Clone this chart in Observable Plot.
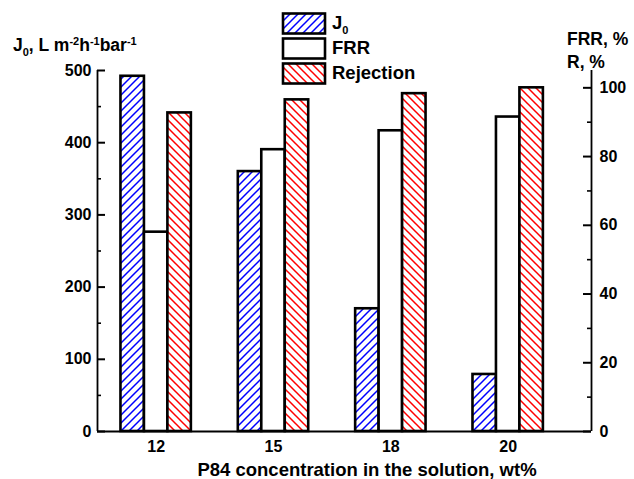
<!DOCTYPE html>
<html><head><meta charset="utf-8">
<script src="https://cdn.jsdelivr.net/npm/d3@7"></script>
<script src="https://cdn.jsdelivr.net/npm/@observablehq/plot@0.6"></script>
<style>body{margin:0;background:#fff} svg{display:block}</style>
</head><body><div id="chart"></div>
<script>
const concentrations = ["12", "15", "18", "20"];
const fluxJ0 = [492, 360, 170, 79];
const frrPct = [58, 82, 87.5, 91.5];
const rejectionPct = [92.7, 96.5, 98.3, 100];
const leftTicks = [0, 100, 200, 300, 400, 500];
const leftMinor = [50, 150, 250, 350, 450];
const rightTicks = [0, 20, 40, 60, 80, 100];
const rightMinor = [10, 30, 50, 70, 90];
const legendLabels = ["J", "FRR", "Rejection"];
const K = 4.76; // one right-axis unit (%) expressed in left-axis units

const rows = concentrations.map((c, i) => ({i, c, j0: fluxJ0[i], frr: frrPct[i] * K, rej: rejectionPct[i] * K}));
const font = "'Liberation Sans', Arial, sans-serif";

const xDomain = [-0.5, 3.71];
const plotW = 634 - 97 - 43;
const u = (xDomain[1] - xDomain[0]) / plotW; // x units per pixel
const majorLen = 8 * u, minorLen = 4 * u;

const svg = Plot.plot({
  width: 634, height: 479,
  marginLeft: 97, marginRight: 43, marginTop: 70, marginBottom: 48,
  style: {fontFamily: font, fontSize: "16px", fontWeight: "bold", color: "black", background: "white"},
  x: {type: "linear", domain: xDomain, axis: null},
  y: {domain: [0, 500], axis: null},
  marks: [
    Plot.rect(rows, {x1: d => d.i - 0.3, x2: d => d.i - 0.1, y1: 0, y2: "j0", fill: "url(#hatchBlue)", stroke: "black", strokeWidth: 2.6}),
    Plot.rect(rows, {x1: d => d.i - 0.1, x2: d => d.i + 0.1, y1: 0, y2: "frr", fill: "white", stroke: "black", strokeWidth: 2.6}),
    Plot.rect(rows, {x1: d => d.i + 0.1, x2: d => d.i + 0.3, y1: 0, y2: "rej", fill: "url(#hatchRed)", stroke: "black", strokeWidth: 2.6}),
    Plot.ruleX(xDomain, {y1: 0, y2: 500, stroke: "black", strokeWidth: 1.8}),
    Plot.ruleY([0], {stroke: "black", strokeWidth: 1.8}),
    // tick labels
    Plot.axisY({anchor: "left", ticks: leftTicks, tickSize: 0, tickPadding: 6, label: null}),
    Plot.axisY({anchor: "right", ticks: rightTicks.map(v => v * K), tickFormat: d => Math.round(d / K), tickSize: 0, tickPadding: 8, label: null}),
    Plot.axisX({ticks: [0, 1, 2, 3], tickFormat: i => concentrations[i], tickSize: 0, tickPadding: 9, label: null}),
    // inward tick marks
    Plot.ruleY(leftTicks, {y: d => d, x1: xDomain[0], x2: xDomain[0] + majorLen, stroke: "black", strokeWidth: 2}),
    Plot.ruleY(leftMinor, {y: d => d, x1: xDomain[0], x2: xDomain[0] + minorLen, stroke: "black", strokeWidth: 1.6}),
    Plot.ruleY(rightTicks, {y: d => d * K, x1: xDomain[1] - majorLen, x2: xDomain[1], stroke: "black", strokeWidth: 2}),
    Plot.ruleY(rightMinor, {y: d => d * K, x1: xDomain[1] - minorLen, x2: xDomain[1], stroke: "black", strokeWidth: 1.6})
  ]
});

const s = d3.select(svg);
const defs = s.insert("defs", ":first-child");
function hatch(id, color, d) {
  const p = defs.append("pattern").attr("id", id).attr("patternUnits", "userSpaceOnUse").attr("width", 8).attr("height", 8);
  p.append("rect").attr("width", 8).attr("height", 8).attr("fill", "white");
  p.append("path").attr("d", d).attr("stroke", color).attr("stroke-width", 1.5);
}
hatch("hatchBlue", "#0000ff", "M-2,2 L2,-2 M0,8 L8,0 M6,10 L10,6");
hatch("hatchRed", "#ff0000", "M-2,6 L2,10 M0,0 L8,8 M6,-2 L10,2");

function label(x, y, size) {
  return s.append("text").attr("x", x).attr("y", y).attr("font-size", size).attr("font-weight", "bold")
    .attr("fill", "black").attr("text-anchor", "start");
}
function part(t, txt, shift, size) {
  const ts = t.append("tspan").text(txt);
  if (shift) ts.attr("dy", shift);
  if (size) ts.attr("font-size", size);
  return ts;
}
// Axis titles
const lt = label(13, 51, 17.5);
part(lt, "J"); part(lt, "0", 5, 11); part(lt, ", L m", -5); part(lt, "-2", -6, 11);
part(lt, "h", 6); part(lt, "-1", -6, 11); part(lt, "bar", 6); part(lt, "-1", -6, 11);

label(567, 45, 17.5).text("FRR, %");
label(567, 68, 17.5).text("R, %");
label(367, 476, 18.5).attr("text-anchor", "middle").text("P84 concentration in the solution, wt%");

// Legend
const fills = ["url(#hatchBlue)", "white", "url(#hatchRed)"];
legendLabels.forEach((lab, k) => {
  const y0 = 13.5 + 25 * k;
  s.append("rect").attr("x", 283).attr("y", y0).attr("width", 42).attr("height", 20).attr("fill", fills[k]).attr("stroke", "black").attr("stroke-width", 2.6);
  const t = label(332, y0 + 15.5, 18.5);
  part(t, lab);
  if (k === 0) part(t, "0", 5, 11);
});

document.getElementById("chart").appendChild(svg);
</script>
</body></html>
